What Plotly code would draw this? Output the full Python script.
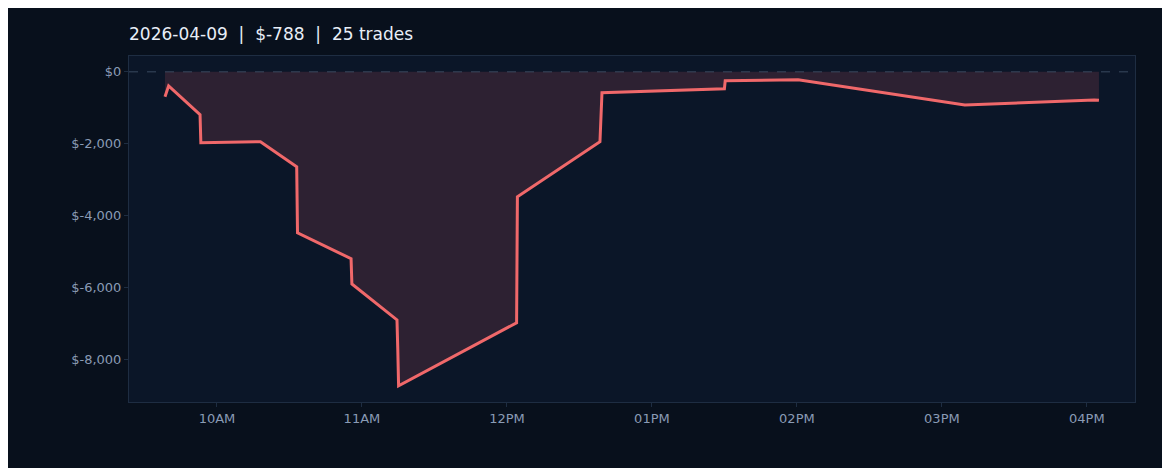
import plotly.graph_objects as go

day = "2026-04-09"
times = ["09:38:30", "09:40:00", "09:53:00", "09:53:20", "10:18:00", "10:33:00", "10:33:20",
         "10:55:30", "10:55:50", "11:14:30", "11:14:50", "11:15:10", "12:04:00", "12:04:20",
         "12:38:30", "12:39:20", "13:30:00", "13:30:20", "14:00:30", "15:09:30", "16:03:00",
         "16:05:00"]
pnl = [-690, -390, -1190, -1970, -1940, -2640, -4470, -5190, -5890, -6890, -7720, -8720,
       -6970, -3470, -1940, -580, -470, -250, -220, -920, -780, -788]

x = [f"{day} {t}" for t in times]

fig = go.Figure()
fig.add_trace(go.Scatter(
    x=x, y=pnl, mode="lines", fill="tozeroy",
    line=dict(color="#f0686a", width=3),
    fillcolor="rgba(240,104,106,0.15)",
))
fig.add_hline(y=0, line=dict(color="#3a4a60", width=1, dash="dash"))

fig.update_layout(
    width=1170, height=468,
    paper_bgcolor="#08101c", plot_bgcolor="#0b1628",
    font=dict(family="DejaVu Sans", color="#8a9bb5", size=13),
    title=dict(text="2026-04-09  |  $-788  |  25 trades", x=121 / 1170, y=0.957,
               xanchor="left", font=dict(color="#e8eef7", size=17)),
    margin=dict(l=121, r=43, t=48, b=74),
    showlegend=False,
    xaxis=dict(range=[f"{day} 09:23:36", f"{day} 16:19:55"], tickformat="%I%p",
               dtick=3600000, showgrid=False, zeroline=False, showline=True,
               linecolor="#1e2d42", mirror=True, ticks="outside", ticklen=4,
               tickcolor="#1e2d42"),
    yaxis=dict(range=[-9170, 440], tickvals=[0, -2000, -4000, -6000, -8000],
               ticktext=["$0", "$-2,000", "$-4,000", "$-6,000", "$-8,000"],
               showgrid=False, zeroline=False, showline=True, linecolor="#1e2d42",
               mirror=True, ticks="outside", ticklen=4, tickcolor="#1e2d42"),
)

fig.write_html("out.html")
